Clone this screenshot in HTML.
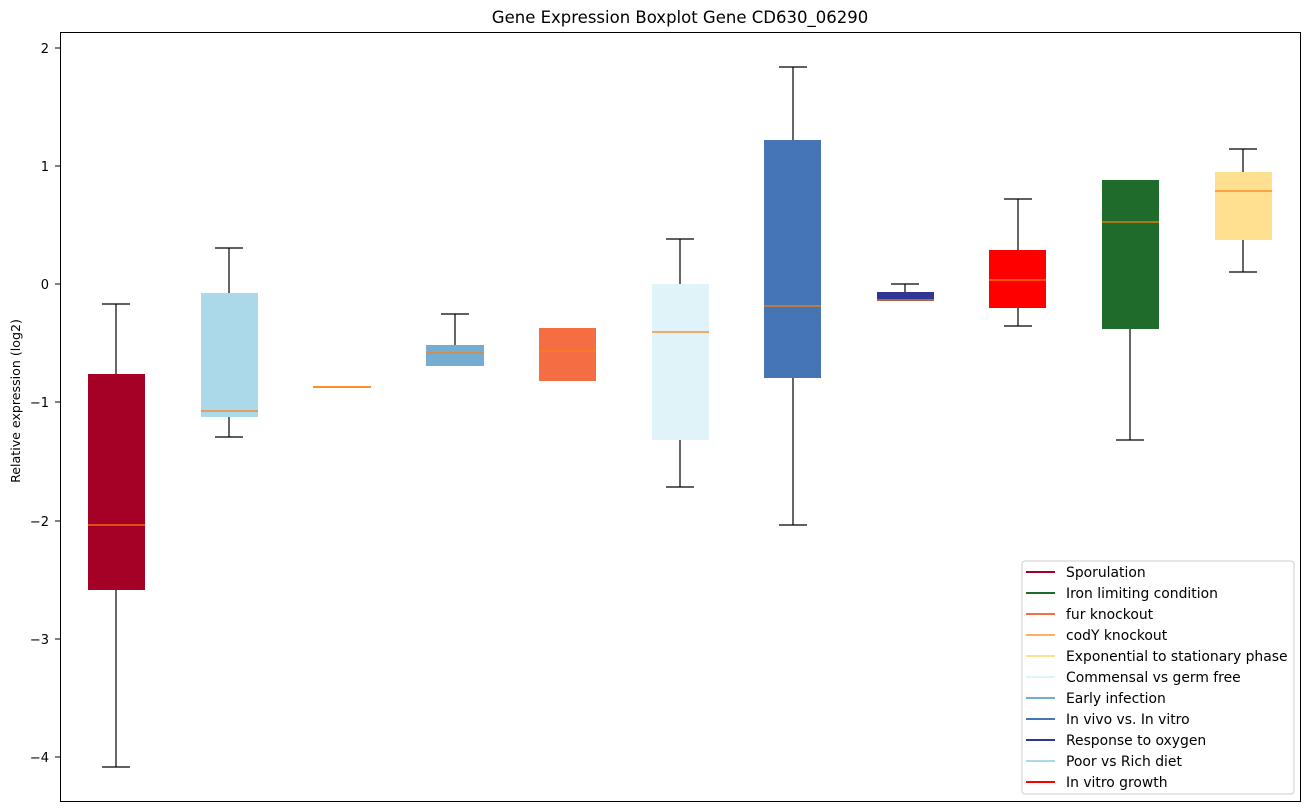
<!DOCTYPE html>
<html><head><meta charset="utf-8"><style>
html,body{margin:0;padding:0;background:#fff;}
svg{display:block;font-family:"DejaVu Sans","Liberation Sans",sans-serif;}
</style></head><body>
<svg width="1309" height="812" viewBox="0 0 1309 812" xmlns="http://www.w3.org/2000/svg">
<text x="680" y="23" font-size="16.5" text-anchor="middle" fill="#000">Gene Expression Boxplot Gene CD630_06290</text>
<g font-size="13" fill="#000" text-anchor="end">
<text x="49" y="53">2</text><line x1="55" x2="60" y1="48" y2="48" stroke="#000"/>
<text x="49" y="171">1</text><line x1="55" x2="60" y1="166" y2="166" stroke="#000"/>
<text x="49" y="289">0</text><line x1="55" x2="60" y1="284" y2="284" stroke="#000"/>
<text x="49" y="407">−1</text><line x1="55" x2="60" y1="402" y2="402" stroke="#000"/>
<text x="49" y="526">−2</text><line x1="55" x2="60" y1="521" y2="521" stroke="#000"/>
<text x="49" y="644">−3</text><line x1="55" x2="60" y1="639" y2="639" stroke="#000"/>
<text x="49" y="762">−4</text><line x1="55" x2="60" y1="757" y2="757" stroke="#000"/>
</g>
<text transform="translate(20,401) rotate(-90)" font-size="12.6" text-anchor="middle">Relative expression (log2)</text>
<g stroke="#000" stroke-width="1.2" fill="none">
<path d="M116 304V374M102 304H130M116 590V767M102 767H130"/>
<path d="M229 248V293M215 248H243M229 417V437M215 437H243"/>
<path d="M455 314V345M441 314H469"/>
<path d="M680 239V284M666 239H694M680 440V487M666 487H694"/>
<path d="M793 67V140M779 67H807M793 378V525M779 525H807"/>
<path d="M905 284V292M891 284H919"/>
<path d="M1018 199V250M1004 199H1032M1018 308V326M1004 326H1032"/>
<path d="M1130 329V440M1116 440H1144"/>
<path d="M1243 149V172M1229 149H1257M1243 240V272M1229 272H1257"/>
</g>
<g stroke="none">
<rect x="88" y="374" width="57" height="216" fill="#a50026"/>
<rect x="201" y="293" width="57" height="124" fill="#abd9e9"/>
<rect x="313" y="386" width="58" height="2" fill="#fdae61"/>
<rect x="426" y="345" width="58" height="21" fill="#74add1"/>
<rect x="539" y="328" width="57" height="53" fill="#f46d43"/>
<rect x="652" y="284" width="57" height="156" fill="#e0f3f8"/>
<rect x="764" y="140" width="57" height="238" fill="#4575b4"/>
<rect x="877" y="292" width="57" height="9" fill="#313695"/>
<rect x="989" y="250" width="57" height="58" fill="#ff0000"/>
<rect x="1102" y="180" width="57" height="149" fill="#1f6b2c"/>
<rect x="1215" y="172" width="57" height="68" fill="#fee090"/>
</g>
<g stroke="#ff7f0e" stroke-width="1.2">
<line x1="88" x2="145" y1="525" y2="525"/>
<line x1="201" x2="258" y1="411" y2="411"/>
<line x1="313" x2="371" y1="387" y2="387"/>
<line x1="426" x2="484" y1="353" y2="353"/>
<line x1="539" x2="596" y1="351" y2="351"/>
<line x1="652" x2="709" y1="332" y2="332"/>
<line x1="764" x2="821" y1="306" y2="306"/>
<line x1="877" x2="934" y1="300" y2="300"/>
<line x1="989" x2="1046" y1="280" y2="280"/>
<line x1="1102" x2="1159" y1="222" y2="222"/>
<line x1="1215" x2="1272" y1="191" y2="191"/>
</g>
<rect x="60.5" y="32.5" width="1240" height="769" fill="none" stroke="#000" stroke-width="1"/>
<rect x="1022" y="561" width="272" height="233" rx="3" fill="#fff" stroke="#ccc" stroke-width="1"/>
<g stroke-width="2">
<line x1="1026" x2="1055" y1="572" y2="572" stroke="#a50026"/>
<line x1="1026" x2="1055" y1="593" y2="593" stroke="#1f6b2c"/>
<line x1="1026" x2="1055" y1="614" y2="614" stroke="#f46d43"/>
<line x1="1026" x2="1055" y1="635" y2="635" stroke="#fdae61"/>
<line x1="1026" x2="1055" y1="656" y2="656" stroke="#fee090"/>
<line x1="1026" x2="1055" y1="677" y2="677" stroke="#e0f3f8"/>
<line x1="1026" x2="1055" y1="698" y2="698" stroke="#74add1"/>
<line x1="1026" x2="1055" y1="719" y2="719" stroke="#4575b4"/>
<line x1="1026" x2="1055" y1="740" y2="740" stroke="#313695"/>
<line x1="1026" x2="1055" y1="761" y2="761" stroke="#abd9e9"/>
<line x1="1026" x2="1055" y1="782" y2="782" stroke="#ff0000"/>
</g>
<g font-size="13.9" fill="#000">
<text x="1066" y="577">Sporulation</text>
<text x="1066" y="598">Iron limiting condition</text>
<text x="1066" y="619">fur knockout</text>
<text x="1066" y="640">codY knockout</text>
<text x="1066" y="661">Exponential to stationary phase</text>
<text x="1066" y="682">Commensal vs germ free</text>
<text x="1066" y="703">Early infection</text>
<text x="1066" y="724">In vivo vs. In vitro</text>
<text x="1066" y="745">Response to oxygen</text>
<text x="1066" y="766">Poor vs Rich diet</text>
<text x="1066" y="787">In vitro growth</text>
</g>
</svg>
</body></html>
